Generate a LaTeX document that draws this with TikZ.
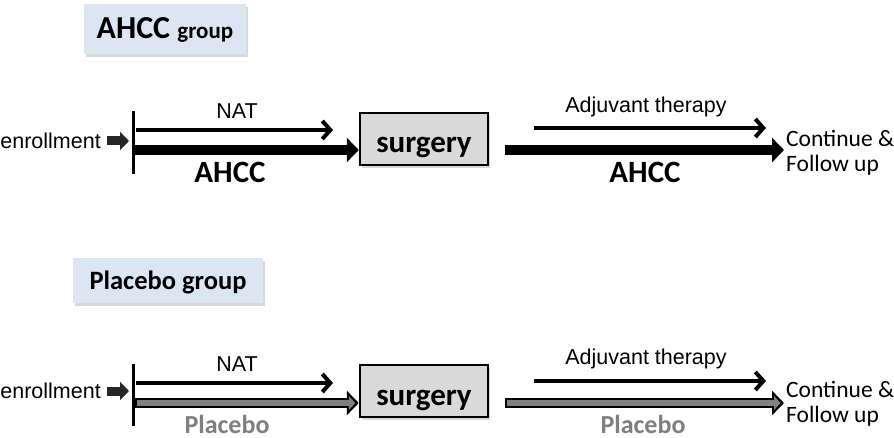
\documentclass[tikz,border=0pt]{standalone}
\usepackage{fontspec}
\setmainfont{Carlito}
\newfontfamily\arialf{Liberation Sans}
\usetikzlibrary{arrows.meta,shadows}
\definecolor{grpblue}{RGB}{220,230,242}
\definecolor{surggray}{RGB}{217,217,217}
\definecolor{plgray}{RGB}{128,128,128}
\definecolor{plfont}{RGB}{127,127,127}
\begin{document}
\begin{tikzpicture}[x=1pt,y=-1pt,
  grpbox/.style={fill=grpblue, draw=none, inner sep=0pt,
    drop shadow={shadow xshift=2pt, shadow yshift=-3pt, opacity=0.3}},
  surgbox/.style={fill=surggray, draw=black, line width=2.5pt, minimum width=128pt, minimum height=52pt,
    drop shadow={shadow xshift=2pt, shadow yshift=-3pt, opacity=0.3}},
  surgtxt/.style={font=\fontsize{31}{31}\selectfont\bfseries, inner sep=0pt},
  thinarr/.style={line width=4pt, -{Straight Barb[length=8pt,width=18pt]}},
  blackarr/.style={line width=10pt, -{Triangle[length=12pt,width=24pt]}},
  grayouter/.style={line width=10pt, -{Triangle[length=12pt,width=24pt]}},
  grayinner/.style={line width=5.5pt, plgray, -{Triangle[length=6.5pt,width=14pt]}, shorten <=2pt, shorten >=3.5pt},
  enrarr/.style={line width=9pt, -{Triangle[length=9pt,width=18pt]}},
  vline/.style={line width=3pt},
  smalltxt/.style={font=\arialf\fontsize{21.5}{22}\selectfont, inner sep=0pt},
  bigtxt/.style={font=\fontsize{31}{31}\selectfont\bfseries, inner sep=0pt},
  pltxt/.style={font=\fontsize{26}{26}\selectfont\bfseries, text=plfont, inner sep=0pt},
  conttxt/.style={font=\fontsize{23.5}{25}\selectfont, align=left, inner sep=0pt},
]
\useasboundingbox (0,0) rectangle (894,438);

% ---------- AHCC group ----------
\node[grpbox, minimum width=162pt, minimum height=50pt] (g1) at (165,29) {};
\node[inner sep=0pt, anchor=base] (g1t) at (165,39) {\fontsize{32}{32}\selectfont\bfseries AHCC {\fontsize{23}{23}\selectfont group}};

\node[smalltxt, anchor=east] (en1) at (101,141) {enrollment};
\coordinate (ea1s) at (107,141);
\coordinate (ea1e) at (129,141);
\draw[enrarr, draw=black!85, fill=black!85] (ea1s) -- (ea1e);

\coordinate (v1t) at (133,111);
\coordinate (v1b) at (133,174);
\draw[vline] (v1t) -- (v1b);

\coordinate (n1s) at (136,130);
\coordinate (n1e) at (333,130);
\draw[thinarr] (n1s) -- (n1e);
\node[smalltxt] (nat1) at (237,111) {NAT};

\node[surgbox] (s1) at (424,139) {};
\node[surgtxt, anchor=base] (s1t) at (424,153) {surgery};

\coordinate (t1s) at (135,150);
\draw[blackarr] (t1s) -- (t1s -| s1.west);
\node[bigtxt] (ah1) at (230,172) {AHCC};

\coordinate (r1s) at (505,150);
\coordinate (r1e) at (784,150);
\draw[blackarr] (r1s) -- (r1e);
\node[bigtxt] (ah2) at (645,172) {AHCC};

\coordinate (j1s) at (534,128);
\coordinate (j1e) at (766,128);
\draw[thinarr] (j1s) -- (j1e);
\node[smalltxt] (adj1) at (646,107) {Adjuvant therapy};

\node[conttxt, anchor=west] (c1) at (786,153) {Continue \&\\Follow up};

% ---------- Placebo group ----------
\node[grpbox, minimum width=190pt, minimum height=45pt] (g2) at (168,281) {};
\node[inner sep=0pt, anchor=base] (g2t) at (168,290) {\fontsize{26.5}{26.5}\selectfont\bfseries Placebo group};

\node[smalltxt, anchor=east] (en2) at (101,391) {enrollment};
\coordinate (ea2s) at (107,391);
\coordinate (ea2e) at (129,391);
\draw[enrarr, draw=black!85, fill=black!85] (ea2s) -- (ea2e);

\coordinate (v2t) at (133,364);
\coordinate (v2b) at (133,426);
\draw[vline] (v2t) -- (v2b);

\coordinate (n2s) at (136,383);
\coordinate (n2e) at (333,383);
\draw[thinarr] (n2s) -- (n2e);
\node[smalltxt] (nat2) at (237,364) {NAT};

\node[surgbox] (s2) at (424,391) {};
\node[surgtxt, anchor=base] (s2t) at (424,405) {surgery};

\coordinate (t2s) at (135,403);
\draw[grayouter] (t2s) -- (t2s -| s2.west);
\draw[grayinner] (t2s) -- (t2s -| s2.west);
\node[pltxt, anchor=base] (pl1) at (227,433) {Placebo};

\coordinate (r2s) at (505,403);
\coordinate (r2e) at (784,403);
\draw[grayouter] (r2s) -- (r2e);
\draw[grayinner] (r2s) -- (r2e);
\node[pltxt, anchor=base] (pl2) at (643,433) {Placebo};

\coordinate (j2s) at (534,381);
\coordinate (j2e) at (766,381);
\draw[thinarr] (j2s) -- (j2e);
\node[smalltxt] (adj2) at (646,359) {Adjuvant therapy};

\node[conttxt, anchor=west] (c2) at (786,404) {Continue \&\\Follow up};
\end{tikzpicture}
\end{document}
